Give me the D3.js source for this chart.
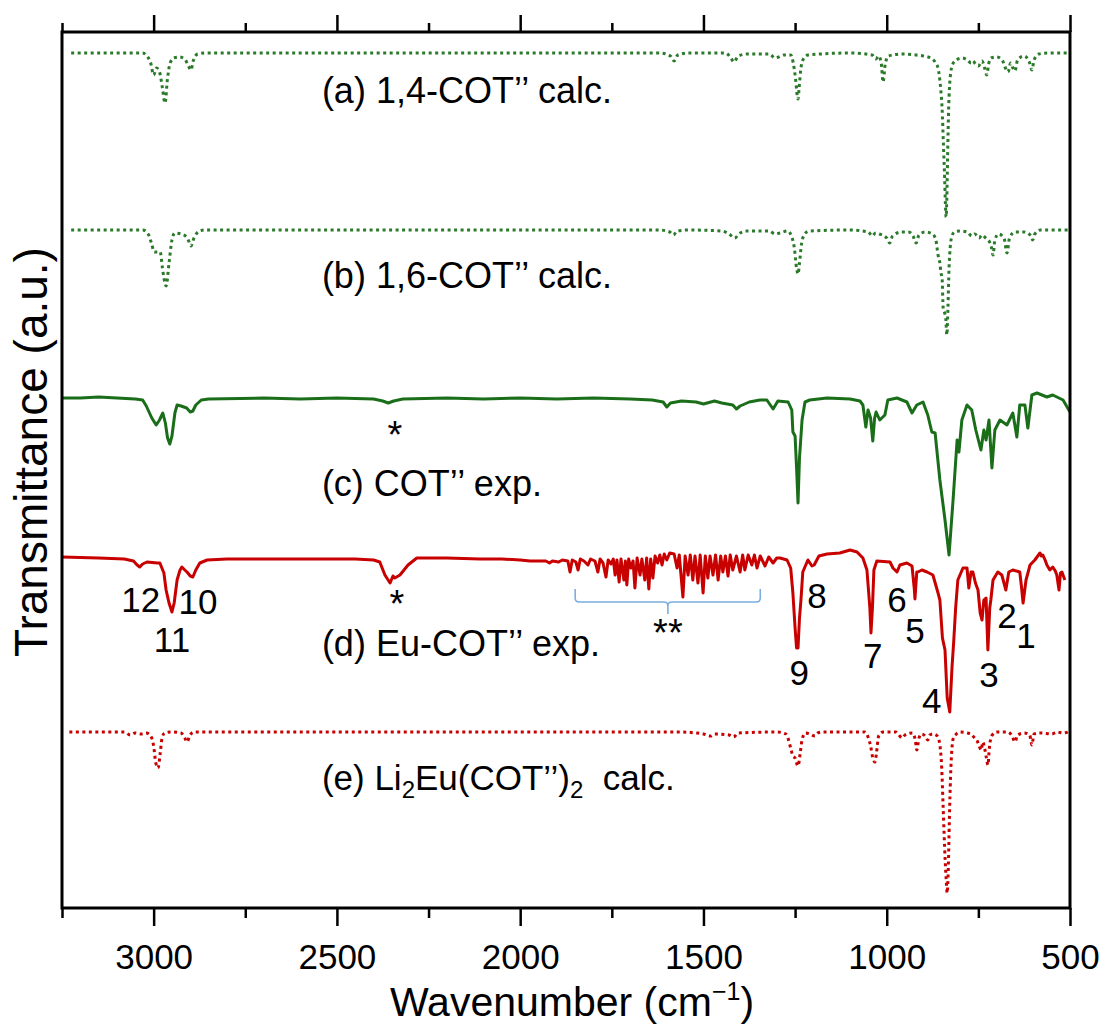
<!DOCTYPE html>
<html lang="en">
<head>
<meta charset="utf-8">
<title>IR spectra</title>
<script src="https://d3js.org/d3.v7.min.js"></script>
<style>
  body { margin: 0; background: #fff; }
  svg text { font-family: "Liberation Sans", Arial, sans-serif; fill: #000; }
  .frame { fill: none; stroke: #000; stroke-width: 3; }
  .axis path { display: none; }
  .axis line { stroke: #000; stroke-width: 2.5; }
  .axis text { font-size: 35px; fill: #000; }
  .spec { fill: none; stroke-width: 3; stroke-linejoin: round; }
  .calc { stroke-dasharray: 3 3.5; }
</style>
</head>
<body>
<div id="chart"></div>
<script>
// wavenumber (cm-1), transmittance (a.u., offset per trace)
var calcA = [[3225,8.55],[3030,8.55],[3018,8.52],[3008,8.45],[3000,8.33],[2992,8.40],[2984,8.36],[2976,8.2],[2969,8.05],[2962,8.3],[2955,8.45],[2945,8.5],[2930,8.51],[2915,8.49],[2905,8.42],[2898,8.38],[2892,8.47],[2880,8.54],[2860,8.55],
  [1620,8.55],[1590,8.52],[1580,8.47],[1570,8.53],[1540,8.55],[1440,8.55],[1425,8.50],[1417,8.46],[1405,8.52],[1380,8.54],[1320,8.54],[1305,8.50],[1295,8.51],[1280,8.53],[1262,8.53],[1255,8.45],[1249,8.3],[1244,8.12],[1242,8.09],[1239,8.2],[1234,8.4],[1226,8.5],[1215,8.53],
  [1100,8.55],[1040,8.53],[1030,8.49],[1022,8.52],[1015,8.45],[1010,8.26],[1004,8.44],[995,8.52],[960,8.54],[920,8.53],[900,8.52],[880,8.5],[868,8.46],[860,8.40],[853,8.2],[849,8.0],[845,7.6],[842,7.3],[840,7.05],[838,6.91],[836,7.1],[834,7.5],[831,8.0],[827,8.3],[820,8.44],[810,8.48],[795,8.50],
  [780,8.48],[770,8.45],[765,8.47],[758,8.44],[750,8.42],[740,8.47],[733,8.40],[727,8.33],[722,8.44],[715,8.5],[700,8.51],[685,8.48],[675,8.39],[669,8.36],[662,8.45],[656,8.40],[650,8.37],[643,8.48],[625,8.52],[610,8.45],[604,8.38],[598,8.48],[585,8.54],[560,8.55],[500,8.55]];

var calcB = [[3225,6.78],[3030,6.78],[3015,6.74],[3006,6.65],[2998,6.56],[2990,6.56],[2982,6.56],[2976,6.4],[2966,6.22],[2958,6.45],[2950,6.68],[2942,6.75],[2925,6.74],[2908,6.7],[2898,6.62],[2890,6.7],[2875,6.77],[2860,6.78],
  [1620,6.78],[1592,6.76],[1582,6.73],[1572,6.77],[1540,6.78],[1450,6.77],[1430,6.74],[1415,6.70],[1400,6.75],[1380,6.77],[1320,6.77],[1305,6.74],[1292,6.75],[1270,6.77],[1260,6.72],[1252,6.6],[1246,6.4],[1242,6.34],[1238,6.45],[1232,6.65],[1222,6.75],[1210,6.77],
  [1100,6.78],[1050,6.76],[1040,6.72],[1030,6.75],[1020,6.74],[1000,6.70],[992,6.65],[984,6.72],[960,6.76],[940,6.76],[928,6.72],[920,6.65],[912,6.73],[895,6.76],[875,6.74],[866,6.68],[860,6.53],[855,6.45],[852,6.35],[849,6.3],[846,6.0],[842,5.95],[839,5.9],[836,5.73],[833,6.0],[830,6.4],[827,6.6],[822,6.72],[815,6.76],[800,6.77],
  [780,6.76],[768,6.72],[760,6.74],[748,6.70],[740,6.73],[730,6.70],[718,6.65],[714,6.6],[710,6.53],[705,6.68],[695,6.74],[680,6.7],[672,6.55],[665,6.7],[650,6.76],[625,6.76],[606,6.72],[602,6.68],[596,6.74],[580,6.78],[500,6.78]];

var expC = [[3250,5.10],[3200,5.10],[3150,5.11],[3100,5.10],[3050,5.09],[3030,5.08],[3020,5.02],[3005,4.90],[2993,4.83],[2984,4.88],[2975,4.95],[2968,4.85],[2962,4.70],[2956,4.64],[2950,4.72],[2942,4.95],[2936,5.03],[2925,5.02],[2910,5.00],[2900,4.96],[2893,4.97],[2885,5.03],[2870,5.08],[2850,5.09],
  [2700,5.10],[2600,5.09],[2500,5.10],[2400,5.09],[2375,5.07],[2360,5.05],[2345,5.07],[2320,5.09],[2200,5.10],[2100,5.09],[2000,5.10],[1900,5.09],[1800,5.10],[1700,5.09],[1640,5.08],[1610,5.06],[1600,5.01],[1590,5.05],[1560,5.07],[1520,5.06],[1500,5.04],[1470,5.07],[1450,5.05],[1420,5.03],[1410,4.99],[1400,5.02],[1375,5.06],
  [1346,5.08],[1327,5.08],[1310,4.99],[1297,5.07],[1269,5.06],[1259,4.98],[1256,4.76],[1250,4.72],[1246,4.4],[1242,4.05],[1238,4.5],[1231,4.88],[1223,5.06],[1210,5.08],[1163,5.10],[1100,5.09],[1073,5.07],[1065,5.03],[1057,4.81],[1051,4.98],[1044,4.9],[1038,4.67],[1033,4.9],[1029,4.96],[1019,4.88],[1005,4.93],[997,5.08],[972,5.10],
  [945,5.06],[931,4.95],[918,5.03],[901,5.06],[888,4.93],[877,4.76],[868,4.75],[855,4.28],[841,3.88],[830,3.53],[819,4.08],[808,4.68],[803,4.56],[795,4.88],[781,5.03],[768,4.98],[757,4.78],[743,4.58],[735,4.78],[729,4.68],[721,4.88],[713,4.40],[705,4.78],[691,4.88],[672,4.83],[656,4.95],[645,4.71],[637,5.03],[623,5.03],[615,4.80],[604,5.13],[590,5.15],[563,5.11],[547,5.13],[519,5.08],[500,4.96]];

var expD = [[3250,3.51],[3150,3.50],[3080,3.49],[3055,3.47],[3045,3.43],[3038,3.41],[3030,3.44],[3018,3.46],[2990,3.45],[2983,3.45],[2972,3.35],[2966,3.18],[2958,3.05],[2950,2.96],[2944,3.05],[2936,3.28],[2928,3.38],[2923,3.41],[2915,3.38],[2909,3.36],[2900,3.32],[2893,3.31],[2885,3.38],[2874,3.45],[2854,3.48],
  [2800,3.49],[2600,3.49],[2450,3.49],[2400,3.48],[2383,3.46],[2369,3.33],[2355,3.25],[2347,3.32],[2342,3.30],[2328,3.33],[2306,3.43],[2282,3.50],[2200,3.50],[2110,3.49],[2050,3.49],[2000,3.48],[1973,3.47],[1950,3.47],
  [1930,3.47],[1920,3.45],[1912,3.47],[1895,3.46],[1885,3.48],[1870,3.47],[1864,3.36],[1858,3.48],[1848,3.46],[1842,3.38],[1836,3.49],[1826,3.47],[1815,3.43],[1808,3.49],[1796,3.47],[1788,3.36],[1782,3.49],[1774,3.45],[1766,3.31],[1760,3.48],[1752,3.44],[1746,3.49],[1741,3.33],[1736,3.48],[1730,3.26],[1725,3.49],[1717,3.28],[1713,3.47],[1709,3.23],[1704,3.49],[1698,3.40],[1692,3.47],[1687,3.20],[1681,3.50],[1673,3.33],[1668,3.49],[1660,3.28],[1655,3.50],[1649,3.19],[1644,3.49],[1638,3.30],[1632,3.52],[1625,3.45],[1619,3.53],[1613,3.43],[1607,3.54],[1600,3.48],[1592,3.55],
  [1580,3.54],[1572,3.40],[1566,3.53],[1556,3.11],[1550,3.52],[1542,3.33],[1536,3.53],[1529,3.28],[1523,3.52],[1515,3.25],[1509,3.53],[1501,3.15],[1495,3.52],[1488,3.30],[1482,3.52],[1474,3.33],[1467,3.53],[1460,3.28],[1453,3.52],[1447,3.36],[1440,3.52],[1433,3.32],[1427,3.53],[1420,3.38],[1410,3.52],[1400,3.36],[1393,3.53],[1387,3.38],[1378,3.53],[1368,3.43],[1361,3.53],[1354,3.40],[1345,3.52],[1332,3.42],[1322,3.51],[1310,3.45],[1300,3.50],
  [1291,3.50],[1272,3.48],[1262,3.40],[1256,3.15],[1250,2.80],[1246,2.6],[1242,2.60],[1238,2.9],[1234,3.08],[1229,3.36],[1215,3.48],[1204,3.42],[1198,3.43],[1185,3.52],[1163,3.54],[1128,3.55],[1100,3.58],[1081,3.56],[1065,3.50],[1054,3.38],[1046,3.0],[1043,2.75],[1039,3.0],[1035,3.38],[1027,3.47],
  [991,3.46],[983,3.40],[972,3.36],[964,3.43],[945,3.45],[931,3.42],[925,3.2],[923,3.09],[918,3.36],[915,3.36],[904,3.38],[890,3.36],[874,3.33],[860,3.15],[855,3.08],[848,2.7],[841,2.58],[835,2.1],[828,1.96],[822,2.4],[817,2.68],[812,3.0],[806,3.28],[792,3.40],[781,3.40],[776,3.20],[770,3.36],[765,3.36],[758,3.25],[751,3.18],[745,2.95],[740,2.88],[735,3.08],[729,3.10],[724,2.58],[719,3.0],[716,3.08],[710,3.28],
  [697,3.36],[686,3.33],[675,3.18],[667,3.36],[656,3.38],[637,3.36],[632,3.2],[628,3.05],[620,3.28],[609,3.43],[596,3.48],[582,3.55],[578,3.52],[574,3.53],[568,3.48],[563,3.43],[555,3.38],[547,3.41],[540,3.37],[536,3.33],[530,3.18],[526,3.35],[522,3.36],[514,3.28]];

var calcE = [[3230,1.76],[3080,1.76],[3064,1.73],[3050,1.75],[3035,1.74],[3020,1.75],[3008,1.72],[3000,1.62],[2994,1.45],[2988,1.40],[2982,1.55],[2977,1.70],[2970,1.75],[2950,1.76],[2925,1.75],[2915,1.70],[2909,1.66],[2902,1.72],[2890,1.76],
  [1560,1.76],[1520,1.75],[1500,1.74],[1480,1.72],[1470,1.74],[1430,1.73],[1418,1.71],[1405,1.75],[1300,1.76],[1275,1.74],[1262,1.6],[1256,1.52],[1250,1.50],[1242,1.42],[1236,1.55],[1231,1.68],[1222,1.75],[1210,1.74],[1196,1.72],[1188,1.75],[1175,1.76],
  [1060,1.76],[1052,1.72],[1044,1.62],[1038,1.50],[1032,1.46],[1028,1.55],[1022,1.72],[1010,1.76],[975,1.76],[958,1.70],[950,1.73],[930,1.75],[922,1.68],[918,1.58],[912,1.7],[905,1.74],[895,1.72],[888,1.68],[882,1.73],[874,1.74],[862,1.72],[855,1.63],[850,1.40],[846,1.0],[842,0.6],[838,0.3],[835,0.15],[832,0.4],[829,0.9],[826,1.3],[822,1.6],[818,1.7],[810,1.74],[800,1.76],
  [780,1.75],[770,1.74],[760,1.70],[754,1.68],[748,1.62],[742,1.58],[738,1.66],[733,1.6],[728,1.5],[724,1.43],[720,1.6],[714,1.72],[700,1.76],[670,1.76],[658,1.72],[650,1.66],[643,1.73],[625,1.75],[610,1.73],[604,1.63],[598,1.74],[580,1.75],[550,1.74],[535,1.76],[520,1.75],[505,1.76]];

var series = [calcA, calcB, expC, expD, calcE];
var seriesColor = ["#2a7a2a", "#2a7a2a", "#1a6e1a", "#c80000", "#c80000"];
var seriesCalc = [true, true, false, false, true];

// trace labels: text and anchor (wavenumber, a.u.)
var traceLabels = ["(a) 1,4-COT\u2019\u2019 calc.", "(b) 1,6-COT\u2019\u2019 calc.", "(c) COT\u2019\u2019 exp.", "(d) Eu-COT\u2019\u2019 exp."];
var traceLabelY = [8.05, 6.20, 4.12, 2.52];
var labelWn = 2541;

// numbered bands of (d)
var peakNums = ["1","2","3","4","5","6","7","8","9","10","11","12"];
var peakWn = [620, 672, 721, 877, 923, 972, 1038, 1190, 1239, 2879, 2950, 3035];
var peakY = [2.60, 2.80, 2.21, 1.95, 2.65, 2.96, 2.40, 3.00, 2.23, 2.94, 2.56, 2.96];

var starWn = [2342, 2336];
var starY = [4.60, 2.91];
var braceWn = [1850, 1597, 1345];

var majorTicks = [3000, 2500, 2000, 1500, 1000, 500];
var minorTicks = [3250, 2750, 2250, 1750, 1250, 750];

var W = 1108, H = 1026;
var m = { left: 62, right: 1070, top: 32, bottom: 908 };

var svg = d3.select("#chart").append("svg")
  .attr("width", W)
  .attr("height", H);

var x = d3.scaleLinear().domain([3250, 500]).range([m.left, m.right]);
var y = d3.scaleLinear().domain([0, 8.76]).range([m.bottom, m.top]);

svg.append("defs").append("clipPath").attr("id", "clip")
  .append("rect")
  .attr("x", m.left).attr("y", m.top)
  .attr("width", m.right - m.left).attr("height", m.bottom - m.top);

// spectra
var line = d3.line().x(function (d) { return x(d[0]); }).y(function (d) { return y(d[1]); });
var g = svg.append("g").attr("clip-path", "url(#clip)");
series.forEach(function (s, i) {
  line.curve(seriesCalc[i] ? d3.curveMonotoneX : d3.curveLinear);
  g.append("path")
    .datum(s)
    .attr("class", "spec" + (seriesCalc[i] ? " calc" : ""))
    .attr("stroke", seriesColor[i])
    .attr("stroke-width", seriesCalc[i] ? 3 : 2.6)
    .attr("d", line);
});

// axes
svg.append("g").attr("class", "axis")
  .attr("transform", "translate(0," + m.bottom + ")")
  .call(d3.axisBottom(x).tickValues(majorTicks).tickSize(18).tickPadding(18).tickSizeOuter(0).tickFormat(d3.format("d")));
svg.append("g").attr("class", "axis")
  .attr("transform", "translate(0," + m.bottom + ")")
  .call(d3.axisBottom(x).tickValues(minorTicks).tickSize(10).tickFormat("").tickSizeOuter(0));
svg.append("g").attr("class", "axis")
  .attr("transform", "translate(0," + m.top + ")")
  .call(d3.axisTop(x).tickValues(majorTicks).tickSize(17).tickFormat("").tickSizeOuter(0));
svg.append("g").attr("class", "axis")
  .attr("transform", "translate(0," + m.top + ")")
  .call(d3.axisTop(x).tickValues(minorTicks).tickSize(9).tickFormat("").tickSizeOuter(0));

svg.append("rect").attr("class", "frame")
  .attr("x", m.left).attr("y", m.top)
  .attr("width", m.right - m.left).attr("height", m.bottom - m.top);

// axis titles
var xt = svg.append("text")
  .attr("x", (m.left + m.right) / 2 + 6).attr("y", 1016)
  .attr("text-anchor", "middle")
  .style("font-size", "41px")
  .text("Wavenumber (cm");
xt.append("tspan").attr("dy", -16).style("font-size", "25px").text("\u22121");
xt.append("tspan").attr("dy", 16).text(")");

svg.append("text")
  .attr("transform", "translate(47,452) rotate(-90)")
  .attr("text-anchor", "middle")
  .style("font-size", "46px")
  .text("Transmittance (a.u.)");

// trace labels
traceLabels.forEach(function (t, i) {
  svg.append("text")
    .attr("x", x(labelWn)).attr("y", y(traceLabelY[i]))
    .style("font-size", "36px")
    .text(t);
});
var le = svg.append("text")
  .attr("x", x(labelWn)).attr("y", y(1.18))
  .style("font-size", "35px")
  .text("(e) Li");
le.append("tspan").attr("dy", 8).style("font-size", "24px").text("2");
le.append("tspan").attr("dy", -8).text("Eu(COT\u2019\u2019)");
le.append("tspan").attr("dy", 8).style("font-size", "24px").text("2");
le.append("tspan").attr("dy", -8).text("\u00a0 calc.");

// band numbers
peakNums.forEach(function (n, i) {
  svg.append("text")
    .attr("x", x(peakWn[i])).attr("y", y(peakY[i]))
    .attr("text-anchor", "middle")
    .style("font-size", "35px")
    .text(n);
});

// asterisks
starWn.forEach(function (w, i) {
  svg.append("text")
    .attr("x", x(w)).attr("y", y(starY[i]))
    .attr("text-anchor", "middle")
    .style("font-size", "38px")
    .text("*");
});
svg.append("text")
  .attr("x", x(braceWn[1])).attr("y", y(2.62))
  .attr("text-anchor", "middle")
  .style("font-size", "38px")
  .text("**");

// brace under the noisy region
var bx0 = x(braceWn[0]), bxm = x(braceWn[1]), bx1 = x(braceWn[2]);
var by0 = 589, by1 = 602, r = 4;
svg.append("path")
  .attr("fill", "none")
  .attr("stroke", "#7aaee0")
  .attr("stroke-width", 1.6)
  .attr("d", "M" + bx0 + "," + by0 + " L" + bx0 + "," + (by1 - r) + " Q" + bx0 + "," + by1 + " " + (bx0 + r) + "," + by1 +
    " L" + (bxm - r) + "," + by1 + " Q" + bxm + "," + by1 + " " + bxm + "," + (by1 + r) + " L" + bxm + "," + (by1 + 12) +
    " M" + bxm + "," + (by1 + r) + " Q" + bxm + "," + by1 + " " + (bxm + r) + "," + by1 +
    " L" + (bx1 - r) + "," + by1 + " Q" + bx1 + "," + by1 + " " + bx1 + "," + (by1 - r) + " L" + bx1 + "," + by0);
</script>
</body>
</html>
